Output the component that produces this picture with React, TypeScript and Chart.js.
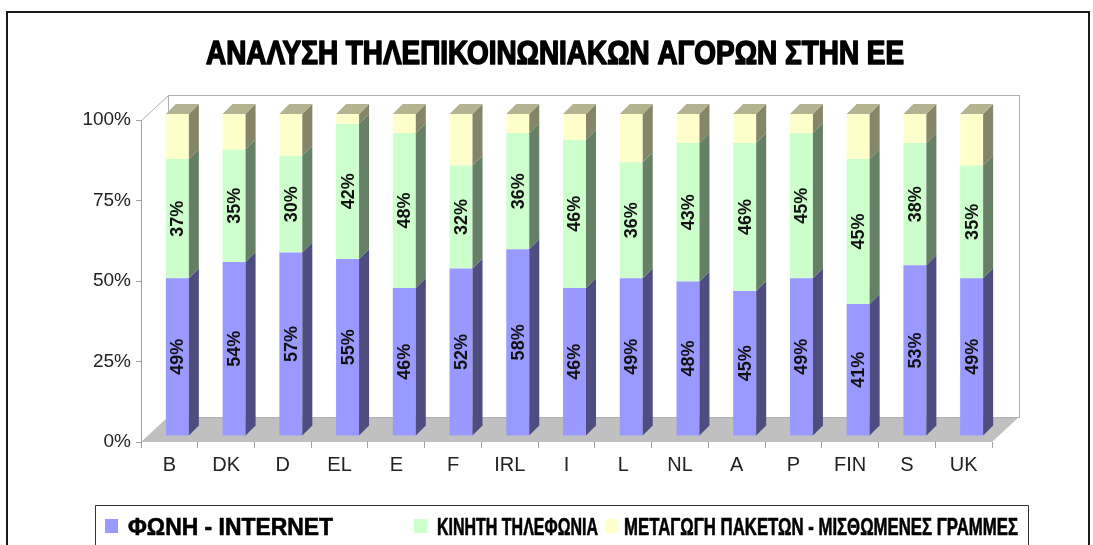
import React, { useEffect, useRef } from "react";
import { Chart, registerables } from "chart.js";

Chart.register(...registerables);

const CATEGORIES = ["B", "DK", "D", "EL", "E", "F", "IRL", "I", "L", "NL", "A", "P", "FIN", "S", "UK"];
const VOICE_INTERNET = [49, 54, 57, 55, 46, 52, 58, 46, 49, 48, 45, 49, 41, 53, 49];
const MOBILE = [37, 35, 30, 42, 48, 32, 36, 46, 36, 43, 46, 45, 45, 38, 35];
const PACKET_LEASED = [14, 11, 13, 3, 6, 16, 6, 8, 15, 9, 9, 6, 14, 9, 16];
const TITLE = "ΑΝΑΛΥΣΗ ΤΗΛΕΠΙΚΟΙΝΩΝΙΑΚΩΝ ΑΓΟΡΩΝ ΣΤΗΝ ΕΕ";
const SERIES_NAMES = ["ΦΩΝΗ - INTERNET", "ΚΙΝΗΤΗ ΤΗΛΕΦΩΝΙΑ", "ΜΕΤΑΓΩΓΗ ΠΑΚΕΤΩΝ - ΜΙΣΘΩΜΕΝΕΣ ΓΡΑΜΜΕΣ"];
const LABELLED = [true, true, false];

const FRONT = ["#9999FF", "#CCFFCC", "#FFFFCC"];
const SIDE = ["#4D4D80", "#668066", "#858569"];
const TOP = ["#6B6BB3", "#8FB38F", "#B3B38F"];

const DEPTH = { x: 27, y: -25 };
const BAR_SHIFT = { x: 8, y: -6 };
const BAR_DEPTH = { x: 10, y: -10 };

const threeD = {
  id: "threeD",
  beforeDraw(chart: any) {
    const ctx = chart.ctx;
    ctx.save();
    ctx.fillStyle = "#ffffff";
    ctx.fillRect(0, 0, chart.width, chart.height);
    // outer border
    ctx.strokeStyle = "#1a1a1a";
    ctx.lineWidth = 2;
    ctx.strokeRect(7, 12, 1082, 600);
    // title
    ctx.fillStyle = "#000";
    ctx.strokeStyle = "#000";
    ctx.lineWidth = 1.6;
    ctx.lineJoin = "round";
    ctx.font = "bold 33px 'Liberation Sans'";
    ctx.textAlign = "center";
    ctx.textBaseline = "alphabetic";
    ctx.fillText(TITLE, 555, 64, 698);
    ctx.strokeText(TITLE, 555, 64, 698);
    // legend box
    ctx.strokeStyle = "#333";
    ctx.lineWidth = 1;
    ctx.strokeRect(95.5, 505.5, 933, 100);
    const items = [
      { sq: 105, tx: 128, w: 205 },
      { sq: 414, tx: 437, w: 161 },
      { sq: 605, tx: 624, w: 394 },
    ];
    ctx.font = "bold 23px 'Liberation Sans'";
    ctx.textAlign = "left";
    ctx.lineWidth = 0.6;
    items.forEach((it, i) => {
      ctx.fillStyle = FRONT[i];
      ctx.fillRect(it.sq, 519, 13, 14);
      ctx.fillStyle = "#000";
      ctx.strokeStyle = "#000";
      ctx.fillText(SERIES_NAMES[i], it.tx, 535, it.w);
      ctx.strokeText(SERIES_NAMES[i], it.tx, 535, it.w);
    });
    ctx.restore();
  },
  beforeDatasetsDraw(chart: any) {
    const ctx = chart.ctx;
    const a = chart.chartArea;
    ctx.save();
    // floor
    ctx.fillStyle = "#C0C0C0";
    ctx.beginPath();
    ctx.moveTo(a.left, a.bottom);
    ctx.lineTo(a.left + DEPTH.x, a.bottom + DEPTH.y);
    ctx.lineTo(a.right + DEPTH.x, a.bottom + DEPTH.y);
    ctx.lineTo(a.right, a.bottom);
    ctx.closePath();
    ctx.fill();
    // back wall
    ctx.strokeStyle = "#B0B0B0";
    ctx.lineWidth = 1;
    ctx.strokeRect(a.left + DEPTH.x + 0.5, a.top + DEPTH.y + 0.5, a.right - a.left, a.bottom - a.top);
    // left wall top edge
    ctx.beginPath();
    ctx.moveTo(a.left + 0.5, a.top + 0.5);
    ctx.lineTo(a.left + DEPTH.x + 0.5, a.top + DEPTH.y + 0.5);
    ctx.stroke();
    ctx.restore();
    ctx.save();
    ctx.translate(BAR_SHIFT.x, BAR_SHIFT.y);
  },
  afterDatasetsDraw(chart: any) {
    const ctx = chart.ctx;
    const n = chart.data.datasets.length;
    for (let d = 0; d < n; d++) {
      const meta = chart.getDatasetMeta(d);
      meta.data.forEach((el: any) => {
        const p = el.getProps(["x", "y", "base", "width"], true);
        const left = p.x - p.width / 2;
        const right = p.x + p.width / 2;
        const top = Math.min(p.y, p.base);
        const bot = Math.max(p.y, p.base);
        ctx.fillStyle = SIDE[d];
        ctx.beginPath();
        ctx.moveTo(right, top);
        ctx.lineTo(right + BAR_DEPTH.x, top + BAR_DEPTH.y);
        ctx.lineTo(right + BAR_DEPTH.x, bot + BAR_DEPTH.y);
        ctx.lineTo(right, bot);
        ctx.closePath();
        ctx.fill();
        if (d === n - 1) {
          ctx.fillStyle = TOP[d];
          ctx.beginPath();
          ctx.moveTo(left, top);
          ctx.lineTo(left + BAR_DEPTH.x, top + BAR_DEPTH.y);
          ctx.lineTo(right + BAR_DEPTH.x, top + BAR_DEPTH.y);
          ctx.lineTo(right, top);
          ctx.closePath();
          ctx.fill();
        }
      });
    }
    // value labels
    ctx.fillStyle = "#111";
    ctx.font = "bold 18px 'Liberation Sans'";
    ctx.textAlign = "center";
    ctx.textBaseline = "middle";
    for (let d = 0; d < n; d++) {
      if (!LABELLED[d]) continue;
      const meta = chart.getDatasetMeta(d);
      const vals = chart.data.datasets[d].data;
      meta.data.forEach((el: any, i: number) => {
        const p = el.getProps(["x", "y", "base"], true);
        ctx.save();
        ctx.translate(p.x, (p.y + p.base) / 2);
        ctx.rotate(-Math.PI / 2);
        ctx.fillText(vals[i] + "%", 0, 1);
        ctx.restore();
      });
    }
    ctx.restore();
  },
};

export default function App() {
  const ref = useRef<HTMLCanvasElement | null>(null);
  useEffect(() => {
    if (!ref.current) return;
    const series = [VOICE_INTERNET, MOBILE, PACKET_LEASED];
    const chart = new Chart(ref.current, {
      type: "bar",
      data: {
        labels: CATEGORIES,
        datasets: series.map((vals, i) => ({
          label: SERIES_NAMES[i],
          data: vals,
          backgroundColor: FRONT[i],
          borderWidth: 0,
          stack: "s",
          categoryPercentage: 1,
          barPercentage: 0.405,
          clip: false as any,
        })),
      },
      options: {
        responsive: false,
        animation: false,
        layout: { padding: { left: 81, top: 120, right: 101, bottom: 63 } },
        plugins: {
          legend: { display: false },
          title: { display: false },
          tooltip: { enabled: false },
        },
        scales: {
          x: {
            stacked: true,
            afterFit: (s: any) => {
              s.height = 40;
            },
            grid: {
              offset: true,
              drawOnChartArea: false,
              drawTicks: true,
              tickLength: 6,
              color: "#A0A0A0",
            },
            border: { display: false },
            ticks: {
              padding: 5,
              color: "#222",
              font: { family: "'Liberation Sans'", size: 20 },
              maxRotation: 0,
              autoSkip: false,
            },
          },
          y: {
            stacked: true,
            min: 0,
            max: 100,
            afterFit: (s: any) => {
              s.width = 60;
            },
            grid: {
              drawOnChartArea: false,
              drawTicks: true,
              tickLength: 5,
              color: "#A0A0A0",
            },
            border: { display: true, color: "#A0A0A0" },
            ticks: {
              stepSize: 25,
              padding: 5,
              color: "#222",
              font: { family: "'Liberation Sans'", size: 19 },
              callback: (v: any) => v + "%",
            },
          },
        },
      },
      plugins: [threeD],
    });
    return () => chart.destroy();
  }, []);
  return (
    <div style={{ position: "absolute", left: 0, top: 0, width: 1093, height: 545 }}>
      <canvas ref={ref} width={1093} height={545} style={{ display: "block" }} />
    </div>
  );
}
